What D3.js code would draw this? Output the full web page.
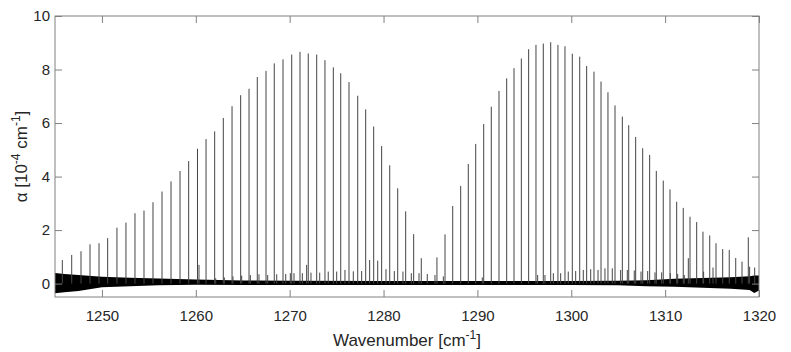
<!DOCTYPE html>
<html>
<head>
<meta charset="utf-8">
<script src="https://cdn.jsdelivr.net/npm/d3@7"></script>
<style>
  body { margin: 0; background: #fff; }
  text { font-family: "Liberation Sans", Arial, sans-serif; }
</style>
</head>
<body>
<script>
// strong lines (wavenumber, absorption)
var lineWn = [1245.78, 1246.78, 1247.77, 1248.73, 1249.69, 1250.61, 1251.60, 1252.56, 1253.52, 1254.48,
  1255.44, 1256.40, 1257.36, 1258.32, 1259.24, 1260.18, 1261.09, 1262.01, 1262.93, 1263.86,
  1264.78, 1265.67, 1266.55, 1267.48, 1268.36, 1269.29, 1270.22, 1271.10, 1271.98, 1272.88,
  1273.76, 1274.65, 1275.44, 1276.32, 1277.25, 1278.10, 1278.95, 1279.80, 1280.66, 1281.51,
  1282.36, 1283.21, 1284.02,
  1285.69, 1286.55, 1287.37, 1288.22, 1289.03, 1289.82, 1290.67, 1291.48, 1292.30, 1293.12,
  1293.90, 1294.68, 1295.46, 1296.24, 1297.02, 1297.81, 1298.58, 1299.33, 1300.11, 1300.90,
  1301.64, 1302.42, 1303.17, 1303.91, 1304.66, 1305.44, 1306.12, 1306.86, 1307.61, 1308.35,
  1309.06, 1309.80, 1310.52, 1311.23, 1311.93, 1312.65, 1313.36, 1314.03, 1314.75, 1315.42,
  1316.13, 1316.83, 1317.52, 1318.19, 1318.86, 1319.54];
var lineAbs = [0.88, 1.07, 1.21, 1.47, 1.51, 1.70, 2.09, 2.28, 2.63, 2.73,
  3.04, 3.44, 3.82, 4.21, 4.58, 5.04, 5.40, 5.69, 6.19, 6.63,
  7.04, 7.28, 7.72, 7.95, 8.23, 8.38, 8.56, 8.66, 8.60, 8.56,
  8.35, 8.08, 7.86, 7.53, 7.02, 6.51, 5.87, 5.14, 4.42, 3.56,
  2.70, 1.85, 0.95,
  0.98, 1.84, 2.90, 3.65, 4.47, 5.22, 5.96, 6.61, 7.20, 7.67,
  8.05, 8.41, 8.76, 8.92, 8.97, 9.02, 8.92, 8.87, 8.59, 8.48,
  8.13, 7.92, 7.55, 7.15, 6.66, 6.24, 5.92, 5.48, 5.06, 4.81,
  4.21, 3.85, 3.52, 3.06, 2.83, 2.50, 2.30, 1.94, 1.80, 1.51,
  1.29, 1.26, 0.96, 0.82, 1.73, 0.60];

// weak lines
var weakWn = [1260.34, 1262.12, 1263.04, 1263.96, 1264.89, 1265.81, 1266.73, 1267.66, 1268.62, 1269.58,
  1270.07, 1270.46, 1271.35, 1271.81, 1272.27, 1273.20, 1274.11, 1275.01, 1275.89, 1276.78,
  1277.67, 1278.52, 1279.38, 1280.26, 1281.15, 1282.07, 1282.96, 1283.78, 1284.66, 1285.48,
  1286.37, 1290.52, 1296.42, 1297.20, 1298.09, 1298.87, 1299.68, 1300.47, 1301.28, 1302.07,
  1302.85, 1303.59, 1304.37, 1305.26, 1305.97, 1306.71, 1307.43, 1308.14, 1308.92, 1309.63,
  1310.55, 1311.34, 1312.04, 1312.47, 1314.10, 1315.10, 1319.00];
var weakAbs = [0.70, 0.20, 0.23, 0.27, 0.30, 0.32, 0.35, 0.32, 0.35, 0.36,
  0.39, 0.39, 0.39, 0.70, 0.41, 0.41, 0.45, 0.45, 0.51, 0.46,
  0.47, 0.88, 0.86, 0.54, 0.47, 0.45, 0.39, 0.39, 0.36, 0.32,
  0.27, 0.23, 0.32, 0.32, 0.39, 0.39, 0.45, 0.47, 0.51, 0.54,
  0.51, 0.57, 0.57, 0.51, 0.51, 0.49, 0.45, 0.47, 0.42, 0.42,
  0.39, 0.36, 0.32, 0.95, 0.45, 0.60, 0.63];

// baseline noise envelope
var noiseWn = [1245, 1246, 1247.5, 1250, 1253, 1256, 1260, 1265, 1270, 1280, 1290, 1300,
  1305, 1308, 1311, 1314, 1317, 1319, 1319.5, 1320];
var noiseLo = [-0.36, -0.32, -0.28, -0.14, -0.10, -0.06, -0.04, -0.05, -0.05, -0.05, -0.05, -0.05,
  -0.06, -0.10, -0.12, -0.15, -0.19, -0.24, -0.35, -0.26];
var noiseHi = [0.40, 0.36, 0.32, 0.26, 0.22, 0.19, 0.15, 0.12, 0.11, 0.10, 0.10, 0.10,
  0.11, 0.13, 0.18, 0.21, 0.24, 0.28, 0.30, 0.30];

var xTicks = [1250, 1260, 1270, 1280, 1290, 1300, 1310, 1320];
var yTicks = [0, 2, 4, 6, 8, 10];

var W = 791, H = 352;
var plotLeft = 55, plotRight = 759, plotTop = 16, plotBottom = 297;
var axisColor = "#808080";
var textColor = "#262626";
var lineColor = "#444";

var svg = d3.select("body").append("svg")
  .attr("width", W)
  .attr("height", H)

var x = d3.scaleLinear().domain([1245, 1320]).range([plotLeft, plotRight]);
var y = d3.scaleLinear().domain([-0.5, 10]).range([plotBottom, plotTop]);

var plot = svg.append("g");

// noise band
var noise = noiseWn.map(function (w, i) { return {w: w, lo: noiseLo[i], hi: noiseHi[i]}; });
plot.append("path")
  .datum(noise)
  .attr("d", d3.area()
    .x(function (d) { return x(d.w); })
    .y0(function (d) { return y(d.lo); })
    .y1(function (d) { return y(d.hi); }))
  .style("fill", "#000");

// weak lines
plot.selectAll(".weak")
  .data(weakWn.map(function (w, i) { return {w: w, a: weakAbs[i]}; }))
  .enter().append("line")
  .attr("class", "weak")
  .attr("x1", function (d) { return x(d.w); })
  .attr("x2", function (d) { return x(d.w); })
  .attr("y1", y(0))
  .attr("y2", function (d) { return y(d.a); })
  .style("stroke", lineColor)
  .style("stroke-width", 1);

// strong lines
plot.selectAll(".strong")
  .data(lineWn.map(function (w, i) { return {w: w, a: lineAbs[i]}; }))
  .enter().append("line")
  .attr("class", "strong")
  .attr("x1", function (d) { return x(d.w); })
  .attr("x2", function (d) { return x(d.w); })
  .attr("y1", y(0))
  .attr("y2", function (d) { return y(d.a); })
  .style("stroke", lineColor)
  .style("stroke-width", 1);

/*
* axes, ticks pointing inward on all four sides
*/
function styleAxis(g) {
  g.select(".domain").remove();
  g.selectAll(".tick line").style("stroke", axisColor);
  g.selectAll(".tick text")
    .style("fill", textColor)
    .style("font-size", "15px")
    .style("font-family", "'Liberation Sans', Arial, sans-serif");
}

svg.append("g")
  .attr("transform", "translate(0," + plotBottom + ")")
  .call(d3.axisBottom(x).tickValues(xTicks).tickFormat(d3.format("d"))
    .tickSizeInner(-7).tickSizeOuter(0).tickPadding(13.5))
  .call(styleAxis);

svg.append("g")
  .attr("transform", "translate(0," + plotTop + ")")
  .call(d3.axisTop(x).tickValues(xTicks).tickSizeInner(-7).tickSizeOuter(0).tickFormat(""))
  .call(styleAxis);

svg.append("g")
  .attr("transform", "translate(" + plotLeft + ",0)")
  .call(d3.axisLeft(y).tickValues(yTicks).tickFormat(d3.format("d"))
    .tickSizeInner(-7).tickSizeOuter(0).tickPadding(5))
  .call(styleAxis);

svg.append("g")
  .attr("transform", "translate(" + plotRight + ",0)")
  .call(d3.axisRight(y).tickValues(yTicks).tickSizeInner(-7).tickSizeOuter(0).tickFormat(""))
  .call(styleAxis);

svg.append("rect")
  .attr("x", plotLeft)
  .attr("y", plotTop)
  .attr("width", plotRight - plotLeft)
  .attr("height", plotBottom - plotTop)
  .style("fill", "none")
  .style("stroke", axisColor)
  .style("stroke-width", 1);

// x label
var xl = svg.append("text")
  .attr("x", (plotLeft + plotRight) / 2)
  .attr("y", 346)
  .attr("text-anchor", "middle")
  .style("font-size", "17px")
  .style("fill", textColor);
xl.append("tspan").text("Wavenumber [cm");
xl.append("tspan").attr("dy", -7).style("font-size", "12px").text("-1");
xl.append("tspan").attr("dy", 7).text("]");

// y label
var yl = svg.append("text")
  .attr("transform", "translate(27," + (plotTop + plotBottom) / 2 + ") rotate(-90)")
  .attr("text-anchor", "middle")
  .style("font-size", "17px")
  .style("fill", textColor);
yl.append("tspan").text("\u03B1 [10");
yl.append("tspan").attr("dy", -7).style("font-size", "12px").text("-4");
yl.append("tspan").attr("dy", 7).text(" cm");
yl.append("tspan").attr("dy", -7).style("font-size", "12px").text("-1");
yl.append("tspan").attr("dy", 7).text("]");
</script>
</body>
</html>
